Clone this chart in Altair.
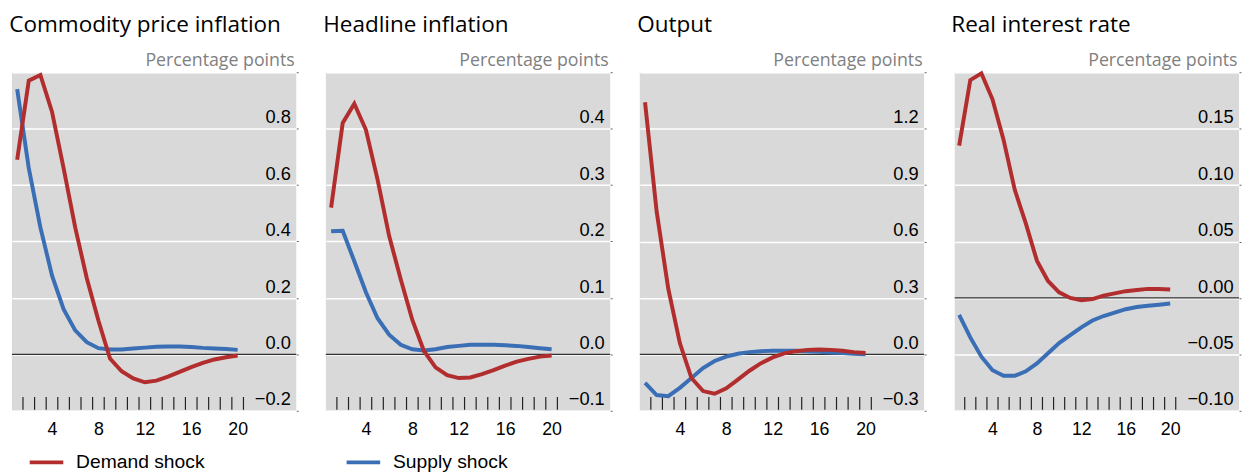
import altair as alt
import pandas as pd

quarters = list(range(1, 21))
tick_positions = [1.5, 2.5, 3.5, 4.5, 5.5, 6.5, 7.5, 8.5, 9.5, 10.5,
                  11.5, 12.5, 13.5, 14.5, 15.5, 16.5, 17.5, 18.5, 19.5, 20.5]
x_labels = [4, 8, 12, 16, 20]
series = ["Demand shock", "Supply shock"]
colors = ["#B22D2D", "#3A6EB5"]

titles = ["Commodity price inflation", "Headline inflation", "Output", "Real interest rate"]

demand_commodity = [0.69, 0.97, 0.99, 0.86, 0.66, 0.45, 0.27, 0.12, -0.015, -0.06,
                    -0.085, -0.099, -0.093, -0.079, -0.062, -0.045, -0.03, -0.018, -0.01, -0.004]
supply_commodity = [0.94, 0.66, 0.45, 0.28, 0.16, 0.085, 0.043, 0.022, 0.017, 0.017,
                    0.021, 0.024, 0.027, 0.028, 0.028, 0.026, 0.023, 0.021, 0.019, 0.016]

demand_headline = [0.26, 0.41, 0.444, 0.398, 0.31, 0.21, 0.133, 0.061, 0.006, -0.023,
                   -0.037, -0.042, -0.041, -0.035, -0.028, -0.02, -0.013, -0.008, -0.004, -0.002]
supply_headline = [0.218, 0.219, 0.165, 0.11, 0.064, 0.035, 0.017, 0.009, 0.007, 0.009,
                   0.013, 0.015, 0.017, 0.017, 0.017, 0.016, 0.015, 0.013, 0.011, 0.009]

demand_output = [1.34, 0.76, 0.35, 0.06, -0.126, -0.195, -0.209, -0.181, -0.134, -0.087,
                 -0.047, -0.016, 0.005, 0.017, 0.024, 0.026, 0.024, 0.019, 0.012, 0.007]
supply_output = [-0.152, -0.216, -0.222, -0.178, -0.126, -0.073, -0.035, -0.012, 0.003, 0.012,
                 0.017, 0.019, 0.019, 0.019, 0.017, 0.014, 0.010, 0.007, 0.003, 0.0]

demand_rate = [0.135, 0.193, 0.199, 0.176, 0.140, 0.096, 0.066, 0.033, 0.015, 0.005,
               0.0, -0.002, -0.001, 0.002, 0.004, 0.006, 0.007, 0.008, 0.008, 0.0075]
supply_rate = [-0.015, -0.035, -0.052, -0.064, -0.069, -0.069, -0.065, -0.058, -0.049, -0.040,
               -0.033, -0.026, -0.020, -0.016, -0.013, -0.010, -0.008, -0.007, -0.006, -0.005]

y_domains = [[-0.2, 1.0], [-0.1, 0.5], [-0.3, 1.5], [-0.1, 0.2]]
y_values = [[-0.2, 0.0, 0.2, 0.4, 0.6, 0.8, 1.0],
            [-0.1, 0.0, 0.1, 0.2, 0.3, 0.4, 0.5],
            [-0.3, 0.0, 0.3, 0.6, 0.9, 1.2, 1.5],
            [-0.1, -0.05, 0.0, 0.05, 0.1, 0.15, 0.2]]
y_formats = [".1f", ".1f", ".1f", ".2f"]
x_domains = [[0.55, 25.05], [0.55, 25.05], [0.55, 25.05], [0.6, 26.2]]

W = 288
H = 343


def make_panel(title, demand, supply, ydom, yvals, fmt, xdom):
    df = pd.DataFrame({
        "q": quarters + quarters,
        "v": supply + demand,
        "s": [series[1]] * 20 + [series[0]] * 20,
    })
    top = ydom[1]
    x_enc = alt.X("q:Q", scale=alt.Scale(domain=xdom, nice=False, zero=False),
                  axis=alt.Axis(values=x_labels, grid=False, domain=False, ticks=False,
                                labelFontSize=18, labelPadding=10, title=None, labelFlush=False,
                                labelFont="Liberation Sans", labelColor="black"))
    y_enc = alt.Y("v:Q", scale=alt.Scale(domain=ydom, nice=False, zero=False),
                  axis=alt.Axis(orient="right", values=yvals, format=fmt, grid=True,
                                gridColor="white", gridWidth=1.5, domain=False,
                                ticks=True, tickSize=2, tickColor="#666",
                                labelAlign="right", labelPadding=-8, labelBaseline="alphabetic",
                                labelOffset=-6, labelFontSize=18.5, labelFont="Liberation Sans",
                                labelColor="black",
                                labelExpr=f"datum.value > {top} - 1e-9 ? '' : datum.label",
                                title="Percentage points", titleAngle=0, titleAlign="right",
                                titleX=-2, titleY=-7, titleBaseline="alphabetic",
                                titleFont="Open Sans", titleFontSize=18, titleFontWeight="normal",
                                titleColor="#808080"))
    lines = alt.Chart(df).mark_line(strokeWidth=4).encode(
        x=x_enc,
        y=y_enc,
        color=alt.Color("s:N", scale=alt.Scale(domain=series, range=colors),
                        legend=alt.Legend(title=None)),
        detail="s:N",
    )
    zero = alt.Chart(pd.DataFrame({"v": [0.0]})).mark_rule(color="#333333", strokeWidth=1.3).encode(
        y=y_enc
    )
    ticks = alt.Chart(pd.DataFrame({"q": tick_positions})).mark_rule(color="#222222", strokeWidth=1.2).encode(
        x=x_enc, y=alt.value(H - 14), y2=alt.value(H - 1)
    )
    return alt.layer(ticks, zero, lines).properties(
        width=W, height=H,
        title=alt.TitleParams(title, anchor="start", fontSize=22.8, font="Open Sans",
                              fontWeight="normal", color="black", offset=15),
    )


panels = [
    make_panel(titles[0], demand_commodity, supply_commodity, y_domains[0], y_values[0], y_formats[0], x_domains[0]),
    make_panel(titles[1], demand_headline, supply_headline, y_domains[1], y_values[1], y_formats[1], x_domains[1]),
    make_panel(titles[2], demand_output, supply_output, y_domains[2], y_values[2], y_formats[2], x_domains[2]),
    make_panel(titles[3], demand_rate, supply_rate, y_domains[3], y_values[3], y_formats[3], x_domains[3]),
]

chart = alt.hconcat(*panels, spacing=24).properties(
    padding={"left": 1, "top": 3, "right": 0, "bottom": 0}
).configure_view(
    fill="#D9D9D9", strokeWidth=0
).configure_legend(
    orient="none", legendX=16, legendY=376, direction="horizontal",
    symbolType="stroke", symbolSize=1156, symbolStrokeWidth=4,
    labelFontSize=19.5, labelFont="Liberation Sans", labelColor="black",
    labelOffset=11, columnPadding=135,
)

chart.save("out.html", embed_options={"renderer": "svg", "actions": False})
